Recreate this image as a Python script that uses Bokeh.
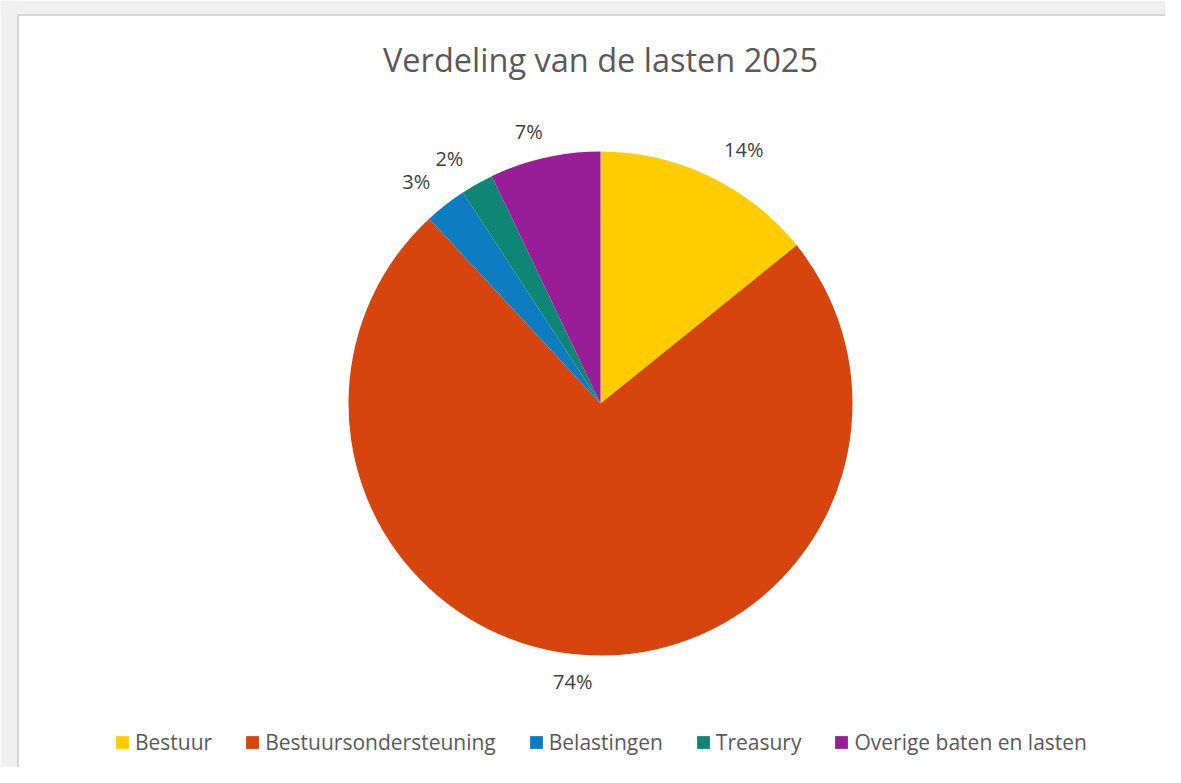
import numpy as np
from bokeh.plotting import figure
from bokeh.models import ColumnDataSource, Range1d, Legend, LegendItem
from bokeh.core.properties import value
from bokeh.embed import file_html
from bokeh.resources import INLINE

# ---- data ----
categories = ["Bestuur", "Bestuursondersteuning", "Belastingen", "Treasury", "Overige baten en lasten"]
shares = [14.2, 73.9, 2.7, 2.1, 7.1]
colors = ["#FFCC00", "#D5450D", "#0E7CC0", "#0F8576", "#981E98"]
title_text = "Verdeling van de lasten 2025"

W, H = 1165, 767
FONT = "Open Sans"

# label placement nudges (screen px: right, down) to mimic Excel's outside-end layout
nudge_x = [19, -7, -7, -10, -8]
nudge_y = [6, -9, 5, 6, 9]

def sx(x):  # screen px -> data x
    return x

def sy(y):  # screen px -> data y
    return H - y

p = figure(width=W, height=H, output_backend="svg", toolbar_location=None,
           x_range=Range1d(0, W), y_range=Range1d(0, H), min_border=0)
p.axis.visible = False
p.grid.visible = False
p.outline_line_color = None
p.background_fill_color = "white"
p.border_fill_color = "white"

# frame decoration (gray surround + edge line)
p.quad(left=[0, 0], right=[W, sx(17)], bottom=[sy(14), 0], top=[H, H],
       fill_color="#f0f0f0", line_color=None)
p.segment(x0=[sx(17), sx(17.5)], y0=[sy(14.5), sy(14)], x1=[W, sx(17.5)], y1=[sy(14.5), 0],
          line_color="#d6d6d6", line_width=2)

# pie
cx, cy, r = sx(600), sy(403), 252
vals = np.array(shares, dtype=float)
frac = vals / vals.sum()
cum = np.concatenate([[0], np.cumsum(frac)])
start = np.pi / 2 - cum[:-1] * 2 * np.pi
end = np.pi / 2 - cum[1:] * 2 * np.pi
mid = (start + end) / 2
labels = [f"{round(v)}%" for v in vals]
lr = 288
lx = cx + lr * np.cos(mid) + np.array(nudge_x)
ly = cy + lr * np.sin(mid) - np.array(nudge_y)
src = ColumnDataSource(dict(category=categories, start=start, end=end, color=colors,
                            lx=lx, ly=ly, label=labels))
wr = p.wedge(x=cx, y=cy, radius=r, start_angle="start", end_angle="end", direction="clock",
             fill_color="color", line_color="white", line_width=0, source=src)

p.text(x="lx", y="ly", text="label", source=src, text_align="center", text_baseline="middle",
       text_font=value(FONT), text_font_size="20px", text_color="#404040")

# title
p.text(x=[sx(600)], y=[sy(59)], text=[title_text], text_align="center", text_baseline="middle",
       text_font=value(FONT), text_font_size="32.5px", text_color="#595959")

# legend
items = [LegendItem(label=c, renderers=[wr], index=i) for i, c in enumerate(categories)]
leg = Legend(items=items, orientation="horizontal", location=(sx(114), sy(756)),
             glyph_width=16, glyph_height=16, label_standoff=5, spacing=32,
             padding=0, margin=0, border_line_color=None, background_fill_alpha=0,
             label_text_font=FONT, label_text_font_size="21px", label_text_color="#595959",
             label_height=16)
p.add_layout(leg, "center")

open("out.html", "w").write(file_html(p, INLINE))
